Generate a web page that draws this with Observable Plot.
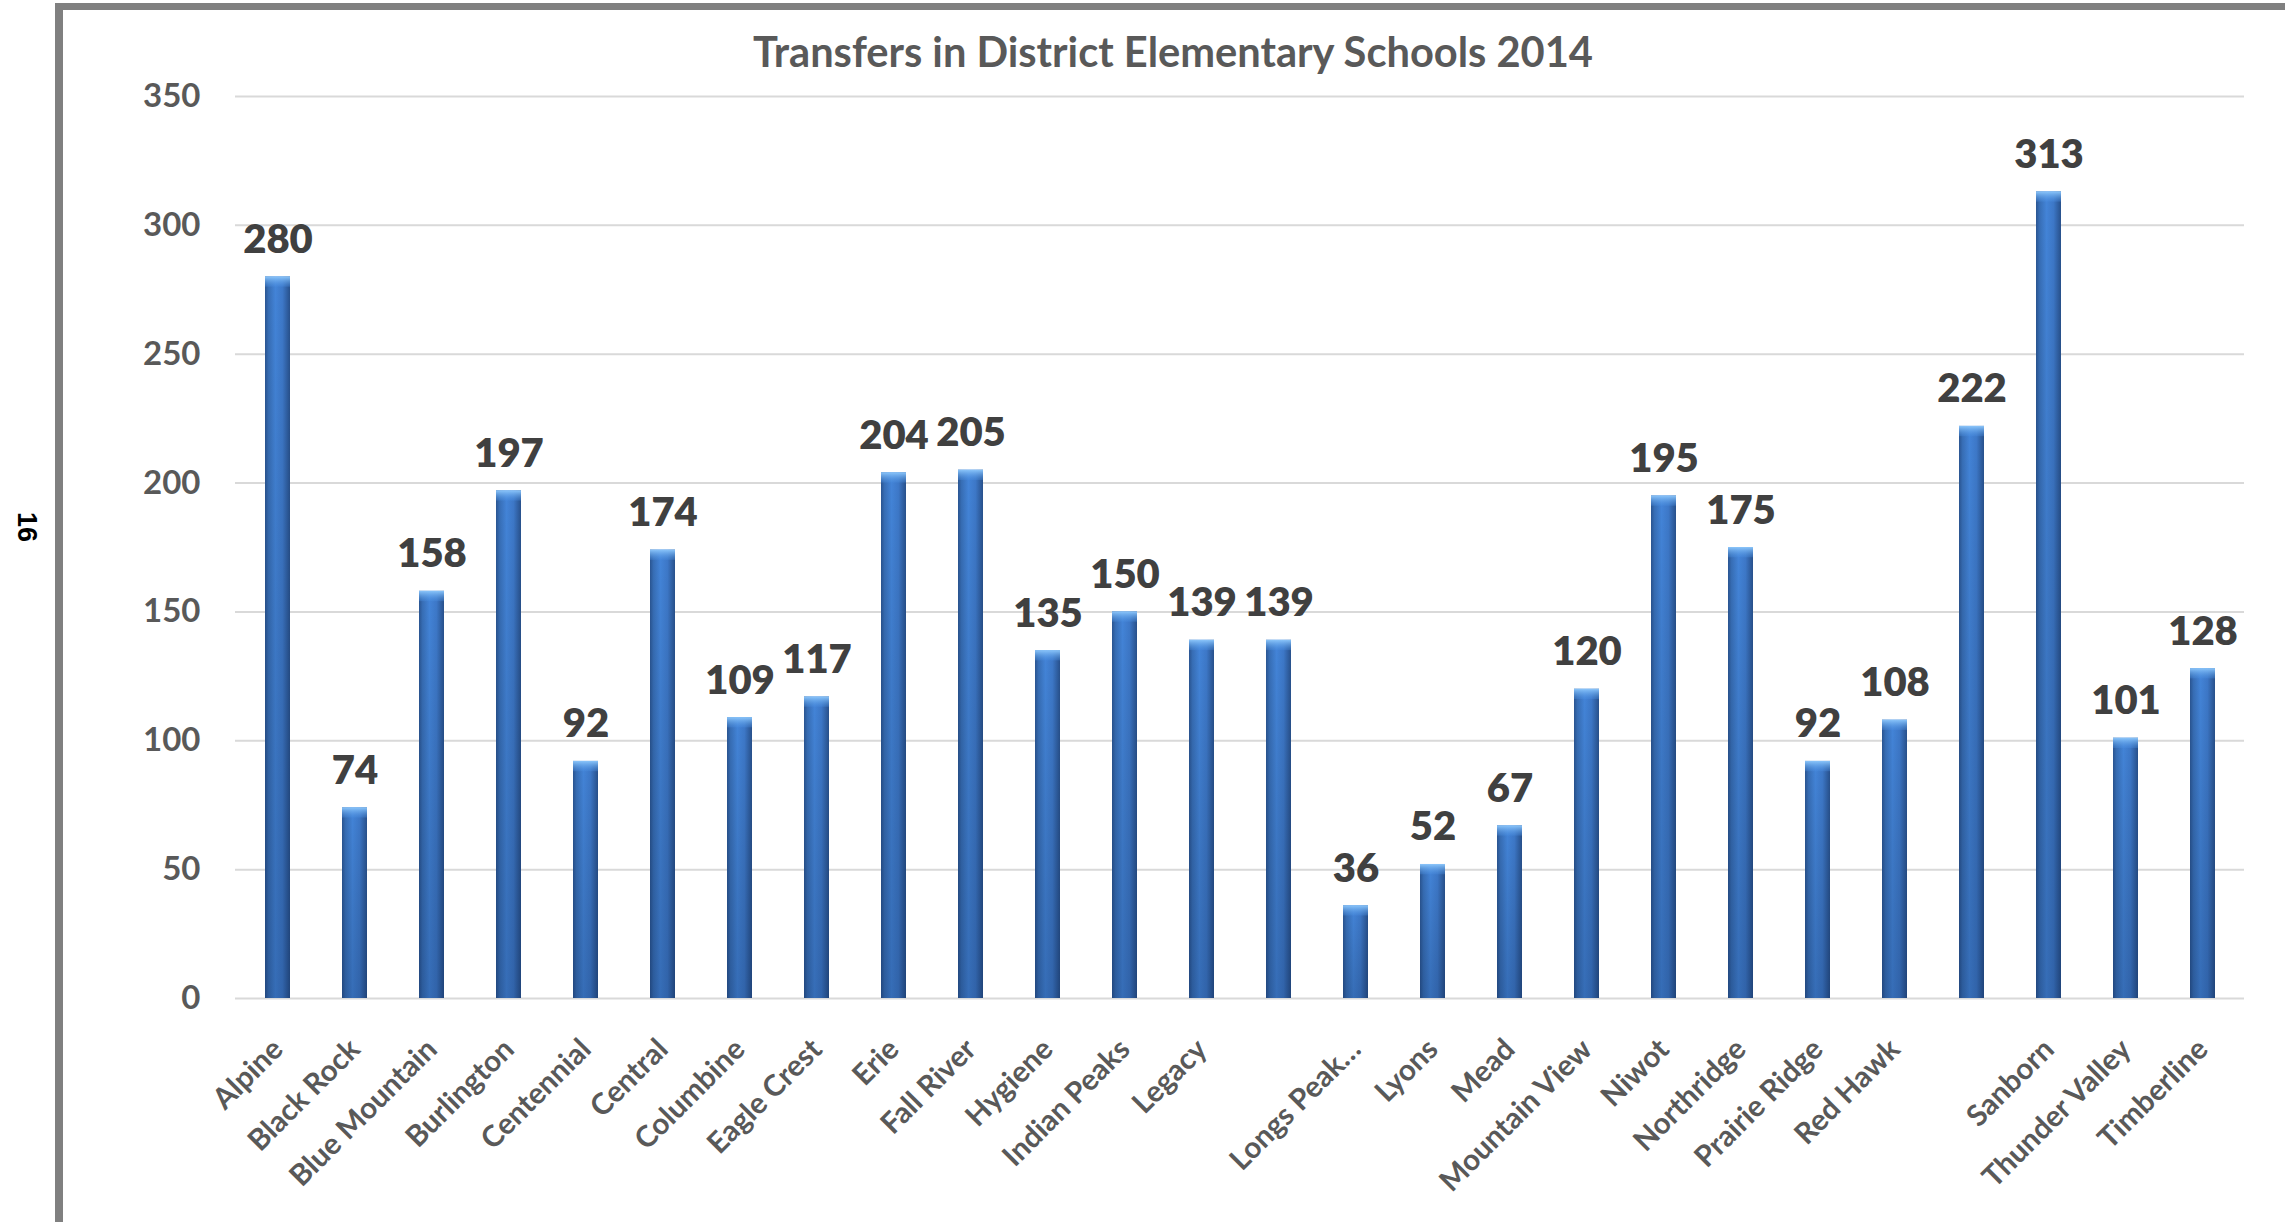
<!DOCTYPE html>
<html>
<head>
<meta charset="utf-8">
<script src="https://cdn.jsdelivr.net/npm/d3@7"></script>
<script src="https://cdn.jsdelivr.net/npm/@observablehq/plot@0.6"></script>
<style>
  html, body { margin: 0; padding: 0; background: #fff; overflow: hidden; }
  #wrap { position: relative; width: 2285px; height: 1222px; }
  #frame { position: absolute; left: 55px; top: 3px; width: 2400px; height: 1400px;
           border-top: 7px solid #808080; border-left: 8px solid #808080; box-sizing: border-box; }
  #title { position: absolute; left: 753px; top: 30px; font-family: Lato, "Open Sans", sans-serif;
           font-weight: 700; font-size: 42px; line-height: 1; color: #595959; white-space: nowrap;
           transform-origin: 0 0; }
  #page { position: absolute; left: 14px; top: 512px; font-family: "Liberation Sans", Arial, sans-serif;
          font-weight: 700; font-size: 27px; line-height: 1; color: #000; transform-origin: 0 0;
          transform: translate(26px, 0) rotate(90deg); }
  #chart { position: absolute; left: 0; top: 0; }
</style>
</head>
<body>
<div id="wrap">
  <div id="frame"></div>
  <div id="chart"></div>
  <div id="title">Transfers in District Elementary Schools 2014</div>
  <div id="page">16</div>
</div>
<script>
const schools = ["Alpine","Black Rock","Blue Mountain","Burlington","Centennial","Central","Columbine","Eagle Crest","Erie","Fall River","Hygiene","Indian Peaks","Legacy","","Longs Peak…","Lyons","Mead","Mountain View","Niwot","Northridge","Prairie Ridge","Red Hawk","","Sanborn","Thunder Valley","Timberline"];
const transfers = [280,74,158,197,92,174,109,117,204,205,135,150,139,139,36,52,67,120,195,175,92,108,222,313,101,128];
const yTicks = [0,50,100,150,200,250,300,350];

const data = transfers.map((v, i) => ({i, name: schools[i], v}));

const plot = Plot.plot({
  width: 2285,
  height: 1222,
  marginLeft: 235,
  marginRight: 41,
  marginTop: 96,
  marginBottom: 224,
  style: {fontFamily: "Lato, 'Open Sans', sans-serif", fontWeight: 700, color: "#595959", background: "transparent", overflow: "visible"},
  x: {domain: d3.range(transfers.length), paddingInner: 0.676, paddingOuter: 0.338, align: 0.5},
  y: {domain: [0, 350]},
  marks: [
    Plot.gridY(yTicks, {stroke: "#d9d9d9", strokeOpacity: 1, strokeWidth: 2}),
    Plot.axisY(yTicks, {tickSize: 0, tickPadding: 35, fontSize: 33, fill: "#595959", label: null}),
    Plot.axisX({tickSize: 0, tickPadding: 46, tickRotate: -45, fontSize: 29.5, fill: "#595959",
                tickFormat: i => schools[i], label: null}),
    Plot.barY(data, {x: "i", y: "v", fill: "url(#barH)"}),
    Plot.barY(data, {x: "i", y: "v", fill: "url(#barV)"}),
    Plot.barY(data, {x: "i", y1: d => d.v - 4, y2: "v", fill: "url(#barTop)"}),
    Plot.text(data, {x: "i", y: "v", text: d => String(d.v), dy: -24, lineAnchor: "bottom",
                     fontSize: 40, fill: "#404040", fontWeight: 800})
  ]
});

const defs = d3.select(plot).insert("defs", ":first-child");
const gh = defs.append("linearGradient").attr("id", "barH").attr("x1", 0).attr("x2", 1).attr("y1", 0).attr("y2", 0);
[["0%", "#2a5592"], ["14%", "#376eb6"], ["42%", "#4384d8"], ["70%", "#3d78c8"], ["100%", "#28518c"]]
  .forEach(([o, c]) => gh.append("stop").attr("offset", o).attr("stop-color", c));
const gv = defs.append("linearGradient").attr("id", "barV").attr("x1", 0).attr("x2", 0).attr("y1", 0).attr("y2", 1);
[["0%", "#000", 0], ["100%", "#001030", 0.2]]
  .forEach(([o, c, a]) => gv.append("stop").attr("offset", o).attr("stop-color", c).attr("stop-opacity", a));
const gt = defs.append("linearGradient").attr("id", "barTop").attr("x1", 0).attr("x2", 0).attr("y1", 0).attr("y2", 1);
[["0%", "#8cc6fa", 1], ["100%", "#4a8ee0", 0.3]]
  .forEach(([o, c, a]) => gt.append("stop").attr("offset", o).attr("stop-color", c).attr("stop-opacity", a));

document.getElementById("chart").appendChild(plot);

// fit title width to reference extent
const t = document.getElementById("title");
const w = t.getBoundingClientRect().width;
t.style.transform = `scaleX(${840 / w})`;
</script>
</body>
</html>
